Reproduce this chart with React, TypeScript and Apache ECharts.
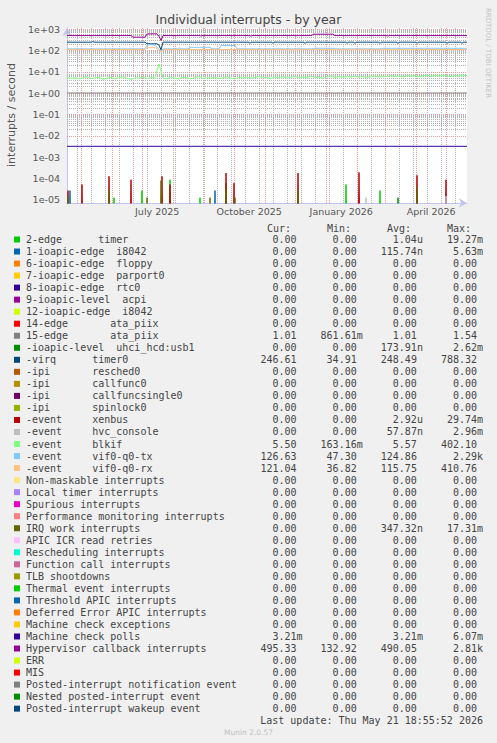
import React, { useEffect, useRef } from 'react';
import * as echarts from 'echarts';

// ---------------- time range ----------------
const START_UTC = Date.UTC(2025, 3, 16, 18, 55, 52);
const END_UTC = Date.UTC(2026, 4, 21, 18, 55, 52);
const DAY_MS = 86400000;

const X_LABEL_TIMES = [Date.UTC(2025, 6, 16), Date.UTC(2025, 9, 16), Date.UTC(2026, 0, 16), Date.UTC(2026, 3, 16)];
const X_LABELS = ['July 2025', 'October 2025', 'January 2026', 'April 2026'];

const Y_LOG_MIN = -5.15;
const Y_LOG_MAX = 3.05;

// ---------------- series data (day offset from start, value) ----------------
const HYPER_DAYS = [0, 64, 66, 78, 80, 90, 92, 94, 96, 133, 134, 135, 183, 184, 185, 245, 246, 266, 268, 320, 321, 322, 400];
const HYPER_VALS = [495, 495, 417, 417, 596, 596, 470, 288, 495, 495, 460, 495, 495, 455, 495, 495, 575, 575, 495, 495, 465, 495, 495];

const TIMER0_DAYS = [0, 25, 26, 27, 78, 80, 90, 92, 94, 96, 182, 183, 184, 205, 206, 207, 237, 238, 239, 279, 280, 281, 287, 288, 289, 312, 313, 314, 330, 331, 332, 349, 350, 351, 379, 380, 381, 394, 395, 396, 400];
const TIMER0_VALS = [243, 243, 265, 243, 243, 205, 205, 180, 105, 243, 243, 212, 243, 243, 214, 243, 243, 212, 243, 243, 214, 243, 243, 212, 243, 243, 213, 243, 243, 212, 243, 243, 214, 243, 243, 212, 243, 243, 213, 243, 243];

const TX_DAYS = [0, 78, 80, 84, 88, 91, 94, 96, 112, 113, 114, 122, 123, 143, 145, 152, 154, 168, 170, 245, 246, 266, 268, 315, 316, 400];
const TX_VALS = [118, 118, 170, 195, 175, 125, 90, 118, 118, 135, 118, 118, 140, 140, 118, 118, 170, 170, 118, 118, 126, 126, 118, 118, 126, 126];

const RX_DAYS = [0, 78, 80, 88, 91, 94, 96, 300, 400];
const RX_VALS = [110, 110, 135, 135, 110, 85, 110, 112, 110];

// blkif sampled every 4 days (day 0 .. 400)
const BLKIF_STEP = 4;
const BLKIF_VALS = [
  5.6, 4.8, 5.3, 4.6, 5.2, 5.9, 4.7, 5.1, 5.5, 4.5, 5.0, 5.4, 4.6, 5.3, 5.8, 4.9, 4.4, 5.2, 5.0, 5.6,
  4.8, 5.4, 5.1, 23, 5.0, 4.6, 5.7, 5.0, 4.7, 5.5, 5.2, 4.6, 5.4, 5.9, 4.8, 5.3, 5.0, 5.6, 4.7, 5.2,
  5.8, 5.0, 4.6, 5.4, 5.1, 5.7, 4.9, 5.3, 6.0, 5.1, 5.5, 4.8, 5.6, 5.2, 5.9, 5.0, 5.4, 6.2, 5.1, 5.6,
  5.3, 6.4, 5.2, 5.7, 5.0, 5.8, 6.6, 5.3, 5.9, 5.4, 6.1, 5.6, 6.3, 5.5, 6.0, 5.2, 5.8, 6.5, 5.6, 6.2,
  5.7, 6.8, 5.9, 6.3, 5.6, 6.9, 6.1, 6.6, 5.8, 6.4, 7.1, 6.0, 6.7, 6.2, 7.0, 6.3, 5.9, 6.8, 6.1, 7.3,
  6.5,
];

const ATA_DAYS = [0, 400];
const ATA_VALS = [1.01, 1.01];
const MCP_DAYS = [0, 400];
const MCP_VALS = [0.00321, 0.00321];

// spikes (one-day peaks from zero)
const XENBUS_DAYS = [1, 15, 42, 64, 95, 103, 159, 167, 231, 292, 350, 379];
const XENBUS_VALS = [2.7e-5, 5.2e-5, 1.26e-4, 8.7e-5, 1.26e-4, 5.2e-5, 1.8e-4, 6.1e-5, 1.8e-4, 1.9e-4, 1.4e-4, 8.7e-5];
const TIMER_DAYS = [47, 75, 103, 133, 159, 279, 313];
const TIMER_VALS = [1.26e-5, 2.7e-5, 8.7e-5, 1.26e-5, 6.1e-5, 5.2e-5, 2.7e-5];
const UHCI_DAYS = [331];
const UHCI_VALS = [1.26e-5];
const I8042_DAYS = [3, 148];
const I8042_VALS = [2.7e-5, 2.7e-5];
const IRQ_DAYS = [1, 42, 80, 94, 143, 159, 168, 231, 350];
const IRQ_VALS = [1.5e-5, 3e-5, 1.26e-5, 8e-5, 1.26e-5, 3e-5, 1.26e-5, 3e-5, 4e-5];
const HVC_DAYS = [299, 379];
const HVC_VALS = [1.26e-5, 1.5e-5];

// ---------------- legend ----------------
const LEGEND_NAMES = [
  '2-edge      timer',
  '1-ioapic-edge  i8042',
  '6-ioapic-edge  floppy',
  '7-ioapic-edge  parport0',
  '8-ioapic-edge  rtc0',
  '9-ioapic-level  acpi',
  '12-ioapic-edge  i8042',
  '14-edge       ata_piix',
  '15-edge       ata_piix',
  '-ioapic-level  uhci_hcd:usb1',
  '-virq      timer0',
  '-ipi       resched0',
  '-ipi       callfunc0',
  '-ipi       callfuncsingle0',
  '-ipi       spinlock0',
  '-event     xenbus',
  '-event     hvc_console',
  '-event     blkif',
  '-event     vif0-q0-tx',
  '-event     vif0-q0-rx',
  'Non-maskable interrupts',
  'Local timer interrupts',
  'Spurious interrupts',
  'Performance monitoring interrupts',
  'IRQ work interrupts',
  'APIC ICR read retries',
  'Rescheduling interrupts',
  'Function call interrupts',
  'TLB shootdowns',
  'Thermal event interrupts',
  'Threshold APIC interrupts',
  'Deferred Error APIC interrupts',
  'Machine check exceptions',
  'Machine check polls',
  'Hypervisor callback interrupts',
  'ERR',
  'MIS',
  'Posted-interrupt notification event',
  'Nested posted-interrupt event',
  'Posted-interrupt wakeup event',
];
const LEGEND_COLORS = [
  '#00CC00', '#0066B3', '#FF8000', '#FFCC00', '#330099', '#990099', '#CCFF00', '#FF0000', '#808080',
  '#008F00', '#00487D', '#B35A00', '#B38F00', '#6B006B', '#8FB300', '#B30000', '#BEBEBE',
  '#80FF80', '#80C9FF', '#FFC080', '#FFE680', '#AA80FF', '#EE00CC', '#FF8080',
  '#666600', '#FFBFFF', '#00FFCC', '#CC6699', '#999900',
  '#00CC00', '#0066B3', '#FF8000', '#FFCC00', '#330099', '#990099', '#CCFF00', '#FF0000', '#808080',
  '#008F00', '#00487D',
];
const Z = '0.00';
const CUR = [Z, Z, Z, Z, Z, Z, Z, Z, '1.01', Z, '246.61', Z, Z, Z, Z, Z, Z, '5.50', '126.63', '121.04', Z, Z, Z, Z, Z, Z, Z, Z, Z, Z, Z, Z, Z, '3.21m', '495.33', Z, Z, Z, Z, Z];
const MIN = [Z, Z, Z, Z, Z, Z, Z, Z, '861.61m', Z, '34.91', Z, Z, Z, Z, Z, Z, '163.16m', '47.30', '36.82', Z, Z, Z, Z, Z, Z, Z, Z, Z, Z, Z, Z, Z, Z, '132.92', Z, Z, Z, Z, Z];
const AVG = ['1.04u', '115.74n', Z, Z, Z, Z, Z, Z, '1.01', '173.91n', '248.49', Z, Z, Z, Z, '2.92u', '57.87n', '5.57', '124.86', '115.75', Z, Z, Z, Z, '347.32n', Z, Z, Z, Z, Z, Z, Z, Z, '3.21m', '490.05', Z, Z, Z, Z, Z];
const MAX = ['19.27m', '5.63m', Z, Z, Z, Z, Z, Z, '1.54', '2.62m', '788.32', Z, Z, Z, Z, '29.74m', '2.96m', '402.10', '2.29k', '410.76', Z, Z, Z, Z, '17.31m', Z, Z, Z, Z, Z, Z, Z, Z, '6.07m', '2.81k', Z, Z, Z, Z, Z];
const HEADERS = ['Cur:', 'Min:', 'Avg:', 'Max:'];

const TITLE = 'Individual interrupts - by year';
const Y_TITLE = 'interrupts / second';
const LAST_UPDATE = 'Last update: Thu May 21 18:55:52 2026';
const FOOTER = 'Munin 2.0.57';
const SIDE = 'RRDTOOL / TOBI OETIKER';

// ---------------- helpers ----------------
const FLOOR = 1e-7;
const t = (d: number) => START_UTC + d * DAY_MS;
const pairs = (days: number[], vals: number[]) => days.map((d, i) => [t(d), vals[i]]);
const spikes = (days: number[], vals: number[]) => {
  const out: any[] = [];
  days.forEach((d, i) => {
    out.push([t(d - 1), FLOOR], [t(d), vals[i]], [t(d + 1), FLOOR]);
  });
  return out;
};
const stepped = (step: number, vals: number[]) => vals.map((v, i) => [t(i * step), v]);

const MONO = '"DejaVu Sans Mono", monospace';
const SANS = '"DejaVu Sans", sans-serif';
const CH = 6.02;

const txt = (x: number, y: number, s: string, align: string, font = '10px ' + MONO, fill = '#444', rotation = 0) => ({
  type: 'text',
  x,
  y,
  rotation,
  silent: true,
  style: { text: s, font, fill, textAlign: align, textVerticalAlign: 'middle', align, verticalAlign: 'middle' },
});

function buildGraphics() {
  const els: any[] = [];
  els.push(txt(248.5, 19.5, TITLE, 'center', '12.5px ' + SANS, '#444'));
  els.push(txt(11, 115, Y_TITLE, 'center', '11px ' + SANS, '#555', Math.PI / 2));
  els.push(txt(488, 53, SIDE, 'center', '7px ' + SANS, '#c4c4c4', -Math.PI / 2));
  HEADERS.forEach((h, c) => els.push(txt(267 + 60 * c, 228, h, 'left')));
  LEGEND_NAMES.forEach((name, i) => {
    const y = 239.5 + 12.03 * i;
    els.push({ type: 'rect', silent: true, shape: { x: 14, y: y - 3, width: 6, height: 6 }, style: { fill: LEGEND_COLORS[i] } });
    const m = name.match(/^(\S.*?)\s{2,}(\S.*)$/);
    if (m) {
      const col = name.indexOf(m[2], m[1].length);
      els.push(txt(26, y, m[1], 'left'));
      els.push(txt(26 + col * CH, y, m[2], 'left'));
    } else {
      els.push(txt(26, y, name, 'left'));
    }
    [CUR, MIN, AVG, MAX].forEach((arr, c) => {
      const s = arr[i];
      const suffix = /[a-zA-Z]$/.test(s);
      els.push(txt(296.5 + 60.2 * c + (suffix ? CH : 0), y, s, 'right'));
    });
  });
  els.push(txt(483, 720, LAST_UPDATE, 'right'));
  els.push(txt(248.5, 732, FOOTER, 'center', '7.5px ' + SANS, '#c0c0c0'));
  return els;
}

function buildGridLines() {
  const MAJOR = '#eb9c9c';
  const MINOR = '#b4b4b4';
  const lines: any[] = [];
  const yMin = Math.pow(10, Y_LOG_MIN);
  const yMax = Math.pow(10, Y_LOG_MAX);
  for (let e = -6; e <= 3; e++) {
    for (let k = 2; k <= 9; k++) {
      const v = k * Math.pow(10, e);
      if (v > yMin && v < yMax) lines.push({ yAxis: v, lineStyle: { color: MINOR, type: [1, 1], width: 1 } });
    }
  }
  // minor vertical: every two weeks (Sundays)
  for (let tm = Date.UTC(2025, 3, 27); tm < END_UTC; tm += 14 * DAY_MS) {
    if (tm > START_UTC) lines.push({ xAxis: tm, lineStyle: { color: MINOR, type: [1, 1], width: 1 } });
  }
  for (let e = -5; e <= 3; e++) {
    lines.push({ yAxis: Math.pow(10, e), lineStyle: { color: MAJOR, type: [1, 1], width: 1 } });
  }
  for (let m = 4; m <= 16; m++) {
    const tm = Date.UTC(2025, m, 1);
    if (tm > START_UTC && tm < END_UTC) lines.push({ xAxis: tm, lineStyle: { color: MAJOR, type: [1, 1], width: 1 } });
  }
  return lines;
}

const lineSeries = (name: string, color: string, data: any[]) => ({
  name,
  type: 'line',
  data,
  showSymbol: false,
  symbol: 'none',
  clip: true,
  silent: true,
  animation: false,
  lineStyle: { width: 1, color },
  itemStyle: { color },
  emphasis: { disabled: true },
});

function buildOption() {
  const yLabel = (v: number) => {
    const e = Math.round(Math.log10(v));
    return '1e' + (e < 0 ? '-' : '+') + String(Math.abs(e)).padStart(2, '0');
  };
  return {
    animation: false,
    backgroundColor: '#f0f0f0',
    grid: { left: 67, top: 28, width: 400, height: 175, show: true, backgroundColor: '#ffffff', borderWidth: 0 },
    xAxis: {
      type: 'value',
      min: START_UTC,
      max: END_UTC,
      axisLine: { onZero: false, lineStyle: { color: '#c2c6ee', width: 1 }, symbol: ['none', 'arrow'], symbolSize: [7, 8] },
      axisTick: { show: false },
      splitLine: { show: false },
      axisLabel: {
        customValues: X_LABEL_TIMES,
        formatter: (v: number) => {
          const i = X_LABEL_TIMES.indexOf(v);
          return i >= 0 ? X_LABELS[i] : '';
        },
        color: '#555',
        fontSize: 9.5,
        fontFamily: 'DejaVu Sans',
        margin: 3.5,
        hideOverlap: false,
      },
    },
    yAxis: {
      type: 'log',
      logBase: 10,
      min: Math.pow(10, Y_LOG_MIN),
      max: Math.pow(10, Y_LOG_MAX),
      splitNumber: 8,
      axisLine: { show: true, lineStyle: { color: '#c2c6ee', width: 1 }, symbol: ['none', 'arrow'], symbolSize: [7, 8] },
      axisTick: { show: false },
      splitLine: { show: false },
      minorSplitLine: { show: false },
      axisLabel: {
        formatter: yLabel,
        showMinLabel: false,
        showMaxLabel: false,
        color: '#555',
        fontSize: 9.5,
        fontFamily: 'DejaVu Sans',
        margin: 7,
      },
    },
    series: [
      {
        type: 'line',
        data: [],
        silent: true,
        markLine: {
          silent: true,
          z: 1,
          symbol: ['none', 'none'],
          label: { show: false },
          emphasis: { disabled: true },
          animation: false,
          data: buildGridLines(),
        },
      },
      lineSeries('2-edge timer', LEGEND_COLORS[0], spikes(TIMER_DAYS, TIMER_VALS)),
      lineSeries('1-ioapic-edge i8042', LEGEND_COLORS[1], spikes(I8042_DAYS, I8042_VALS)),
      lineSeries('15-edge ata_piix', LEGEND_COLORS[8], pairs(ATA_DAYS, ATA_VALS)),
      lineSeries('uhci_hcd:usb1', LEGEND_COLORS[9], spikes(UHCI_DAYS, UHCI_VALS)),
      lineSeries('timer0', LEGEND_COLORS[10], pairs(TIMER0_DAYS, TIMER0_VALS)),
      lineSeries('xenbus', LEGEND_COLORS[15], spikes(XENBUS_DAYS, XENBUS_VALS)),
      lineSeries('hvc_console', LEGEND_COLORS[16], spikes(HVC_DAYS, HVC_VALS)),
      lineSeries('blkif', LEGEND_COLORS[17], stepped(BLKIF_STEP, BLKIF_VALS)),
      lineSeries('vif0-q0-tx', LEGEND_COLORS[18], pairs(TX_DAYS, TX_VALS)),
      lineSeries('vif0-q0-rx', LEGEND_COLORS[19], pairs(RX_DAYS, RX_VALS)),
      lineSeries('IRQ work interrupts', LEGEND_COLORS[24], spikes(IRQ_DAYS, IRQ_VALS)),
      lineSeries('Machine check polls', LEGEND_COLORS[33], pairs(MCP_DAYS, MCP_VALS)),
      lineSeries('Hypervisor callback interrupts', LEGEND_COLORS[34], pairs(HYPER_DAYS, HYPER_VALS)),
    ],
    graphic: { elements: buildGraphics() },
  };
}

export default function App() {
  const ref = useRef<HTMLDivElement>(null);
  useEffect(() => {
    document.body.style.margin = '0';
    const chart = echarts.init(ref.current as HTMLDivElement, null, { renderer: 'svg', width: 497, height: 743 });
    chart.setOption(buildOption() as any);
    return () => chart.dispose();
  }, []);
  return <div ref={ref} style={{ width: 497, height: 743, position: 'absolute', left: 0, top: 0 }} />;
}
